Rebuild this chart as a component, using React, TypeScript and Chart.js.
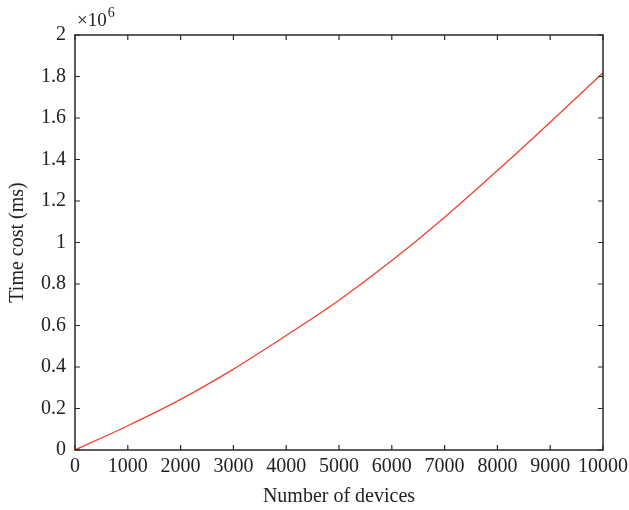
import React, { useEffect, useRef } from "react";
import { Chart, registerables } from "chart.js";

Chart.register(...registerables);

const devices = [0, 1000, 2000, 3000, 4000, 5000, 6000, 7000, 8000, 9000, 10000];
const timeCost = [0, 0.117, 0.244, 0.39, 0.552, 0.722, 0.913, 1.122, 1.347, 1.58, 1.818];
const yTicks = [0, 0.2, 0.4, 0.6, 0.8, 1, 1.2, 1.4, 1.6, 1.8, 2];
const xTicks = [0, 1000, 2000, 3000, 4000, 5000, 6000, 7000, 8000, 9000, 10000];

const FONT = "'Liberation Serif', 'DejaVu Serif', serif";
const AXIS = "#2a2a2a";
const FS = 20;

const boxPlugin = {
  id: "boxTicks",
  afterDraw(chart: any) {
    const { ctx, chartArea: a, scales } = chart;
    const x = scales.x;
    const y = scales.y;
    ctx.save();
    ctx.strokeStyle = AXIS;
    ctx.lineWidth = 1.5;
    ctx.strokeRect(a.left, a.top, a.right - a.left, a.bottom - a.top);
    ctx.lineWidth = 1.2;
    const L = 5;
    ctx.beginPath();
    xTicks.forEach((v) => {
      const px = x.getPixelForValue(v);
      ctx.moveTo(px, a.bottom);
      ctx.lineTo(px, a.bottom - L);
      ctx.moveTo(px, a.top);
      ctx.lineTo(px, a.top + L);
    });
    yTicks.forEach((v) => {
      const py = y.getPixelForValue(v);
      ctx.moveTo(a.left, py);
      ctx.lineTo(a.left + L, py);
      ctx.moveTo(a.right, py);
      ctx.lineTo(a.right - L, py);
    });
    ctx.stroke();
    ctx.fillStyle = "#222";
    ctx.font = `19px ${FONT}`;
    ctx.textBaseline = "alphabetic";
    ctx.textAlign = "left";
    const base = a.top - 9;
    ctx.fillText("\u00d710", a.left + 2, base);
    const w = ctx.measureText("\u00d710").width;
    ctx.font = `14px ${FONT}`;
    ctx.fillText("6", a.left + 2 + w + 1, base - 9);
    ctx.restore();
  },
};

export default function App() {
  const ref = useRef<HTMLCanvasElement>(null);
  useEffect(() => {
    if (!ref.current) return;
    const chart = new Chart(ref.current, {
      type: "line",
      data: {
        datasets: [
          {
            data: devices.map((d, i) => ({ x: d, y: timeCost[i] })),
            borderColor: "rgb(238,66,44)",
            borderWidth: 1.3,
            pointRadius: 0,
            tension: 0.3,
            fill: false,
          },
        ],
      },
      options: {
        animation: false,
        responsive: false,
        maintainAspectRatio: false,
        layout: { padding: { left: 0, right: 26, top: 35, bottom: 0 } },
        plugins: { legend: { display: false }, tooltip: { enabled: false } },
        scales: {
          x: {
            type: "linear",
            min: 0,
            max: 10000,
            afterBuildTicks: (s: any) => {
              s.ticks = xTicks.map((v) => ({ value: v }));
            },
            afterFit: (s: any) => {
              s.height = 60;
              s.paddingLeft = 0;
              s.paddingRight = 0;
            },
            grid: { display: false, drawTicks: false },
            border: { display: false },
            ticks: {
              color: "#222",
              font: { family: FONT, size: FS },
              padding: 5,
              maxRotation: 0,
              autoSkip: false,
              callback: (v: any) => String(v),
            },
            title: {
              display: true,
              text: "Number of devices",
              color: "#222",
              font: { family: FONT, size: FS },
              padding: { top: 0, bottom: 1 },
            },
          },
          y: {
            type: "linear",
            min: 0,
            max: 2,
            afterBuildTicks: (s: any) => {
              s.ticks = yTicks.map((v) => ({ value: v }));
            },
            afterFit: (s: any) => {
              s.width = 75;
              s.paddingTop = 0;
              s.paddingBottom = 0;
            },
            grid: { display: false, drawTicks: false },
            border: { display: false },
            ticks: {
              color: "#222",
              font: { family: FONT, size: FS },
              padding: 9,
              autoSkip: false,
              callback: (v: any) => String(Number(Number(v).toFixed(1))),
            },
            title: {
              display: true,
              text: "Time cost (ms)",
              color: "#222",
              font: { family: FONT, size: FS },
              padding: { top: 6, bottom: 0 },
            },
          },
        },
      },
      plugins: [boxPlugin],
    });
    return () => chart.destroy();
  }, []);
  return (
    <div style={{ position: "fixed", left: 0, top: 0, width: 629, height: 510, background: "#fff" }}>
      <canvas ref={ref} width={629} height={510} style={{ width: 629, height: 510 }} />
    </div>
  );
}
